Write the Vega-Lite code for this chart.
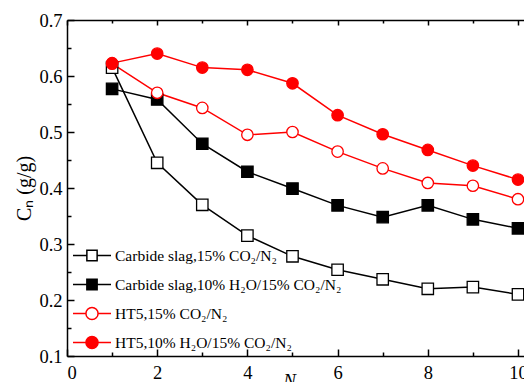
{
  "$schema": "https://vega.github.io/schema/vega-lite/v6.json",
  "width": 460,
  "height": 336,
  "autosize": "none",
  "padding": {"left": 67, "top": 20, "right": 0, "bottom": 26},
  "background": "white",
  "config": {
    "view": {"stroke": null},
    "font": "Liberation Serif",
    "axis": {
      "domainColor": "#000000",
      "domainWidth": 1.5,
      "tickColor": "#000000",
      "tickWidth": 1.5,
      "labelFont": "Liberation Serif",
      "labelFontSize": 18.5,
      "labelColor": "#000000",
      "titleFont": "Liberation Serif",
      "titleColor": "#000000",
      "titleFontWeight": "normal",
      "grid": false,
      "labelOverlap": false
    },
    "legend": {
      "labelFont": "Liberation Serif",
      "labelFontSize": 15.5,
      "labelColor": "#000000",
      "labelLimit": 400
    }
  },
  "data": {
    "values": [
      {"N": 1, "C": 0.615, "series": "Carbide slag,15% CO₂/N₂"},
      {"N": 2, "C": 0.445, "series": "Carbide slag,15% CO₂/N₂"},
      {"N": 3, "C": 0.370, "series": "Carbide slag,15% CO₂/N₂"},
      {"N": 4, "C": 0.315, "series": "Carbide slag,15% CO₂/N₂"},
      {"N": 5, "C": 0.278, "series": "Carbide slag,15% CO₂/N₂"},
      {"N": 6, "C": 0.254, "series": "Carbide slag,15% CO₂/N₂"},
      {"N": 7, "C": 0.237, "series": "Carbide slag,15% CO₂/N₂"},
      {"N": 8, "C": 0.220, "series": "Carbide slag,15% CO₂/N₂"},
      {"N": 9, "C": 0.223, "series": "Carbide slag,15% CO₂/N₂"},
      {"N": 10, "C": 0.210, "series": "Carbide slag,15% CO₂/N₂"},
      {"N": 1, "C": 0.577, "series": "Carbide slag,10% H₂O/15% CO₂/N₂"},
      {"N": 2, "C": 0.558, "series": "Carbide slag,10% H₂O/15% CO₂/N₂"},
      {"N": 3, "C": 0.479, "series": "Carbide slag,10% H₂O/15% CO₂/N₂"},
      {"N": 4, "C": 0.429, "series": "Carbide slag,10% H₂O/15% CO₂/N₂"},
      {"N": 5, "C": 0.399, "series": "Carbide slag,10% H₂O/15% CO₂/N₂"},
      {"N": 6, "C": 0.369, "series": "Carbide slag,10% H₂O/15% CO₂/N₂"},
      {"N": 7, "C": 0.348, "series": "Carbide slag,10% H₂O/15% CO₂/N₂"},
      {"N": 8, "C": 0.369, "series": "Carbide slag,10% H₂O/15% CO₂/N₂"},
      {"N": 9, "C": 0.344, "series": "Carbide slag,10% H₂O/15% CO₂/N₂"},
      {"N": 10, "C": 0.328, "series": "Carbide slag,10% H₂O/15% CO₂/N₂"},
      {"N": 1, "C": 0.622, "series": "HT5,15% CO₂/N₂"},
      {"N": 2, "C": 0.570, "series": "HT5,15% CO₂/N₂"},
      {"N": 3, "C": 0.543, "series": "HT5,15% CO₂/N₂"},
      {"N": 4, "C": 0.495, "series": "HT5,15% CO₂/N₂"},
      {"N": 5, "C": 0.500, "series": "HT5,15% CO₂/N₂"},
      {"N": 6, "C": 0.465, "series": "HT5,15% CO₂/N₂"},
      {"N": 7, "C": 0.435, "series": "HT5,15% CO₂/N₂"},
      {"N": 8, "C": 0.409, "series": "HT5,15% CO₂/N₂"},
      {"N": 9, "C": 0.404, "series": "HT5,15% CO₂/N₂"},
      {"N": 10, "C": 0.380, "series": "HT5,15% CO₂/N₂"},
      {"N": 1, "C": 0.623, "series": "HT5,10% H₂O/15% CO₂/N₂"},
      {"N": 2, "C": 0.640, "series": "HT5,10% H₂O/15% CO₂/N₂"},
      {"N": 3, "C": 0.615, "series": "HT5,10% H₂O/15% CO₂/N₂"},
      {"N": 4, "C": 0.611, "series": "HT5,10% H₂O/15% CO₂/N₂"},
      {"N": 5, "C": 0.587, "series": "HT5,10% H₂O/15% CO₂/N₂"},
      {"N": 6, "C": 0.530, "series": "HT5,10% H₂O/15% CO₂/N₂"},
      {"N": 7, "C": 0.496, "series": "HT5,10% H₂O/15% CO₂/N₂"},
      {"N": 8, "C": 0.468, "series": "HT5,10% H₂O/15% CO₂/N₂"},
      {"N": 9, "C": 0.440, "series": "HT5,10% H₂O/15% CO₂/N₂"},
      {"N": 10, "C": 0.415, "series": "HT5,10% H₂O/15% CO₂/N₂"}
    ]
  },
  "layer": [
    {
      "mark": {"type": "line", "strokeWidth": 1.5},
      "encoding": {
        "x": {
          "field": "N", "type": "quantitative",
          "scale": {"domain": [0, 10.2], "nice": false, "zero": false},
          "axis": {
            "orient": "bottom",
            "values": [0, 2, 4, 6, 8, 10],
            "tickSize": -7,
            "labelPadding": 14,
            "labelFont": "Liberation Serif",
            "title": "N",
            "titleFont": "Liberation Serif",
            "titleFontStyle": "italic",
            "titleFontSize": 19,
            "titleX": 222,
            "titleY": 15,
            "titleBaseline": "top"
          }
        },
        "y": {
          "field": "C", "type": "quantitative",
          "scale": {"domain": [0.1, 0.7], "nice": false, "zero": false},
          "axis": {
            "values": [0.1, 0.2, 0.3, 0.4, 0.5, 0.6, 0.7],
            "format": ".1f",
            "tickSize": -7,
            "labelPadding": 12,
            "labelFont": "Liberation Serif",
            "title": "Cₙ (g/g)",
            "titleFont": "Liberation Serif",
            "titleFontSize": 20,
            "titlePadding": 4
          }
        },
        "stroke": {
          "field": "series", "type": "nominal",
          "scale": {
            "domain": ["Carbide slag,15% CO₂/N₂", "Carbide slag,10% H₂O/15% CO₂/N₂", "HT5,15% CO₂/N₂", "HT5,10% H₂O/15% CO₂/N₂"],
            "range": ["#000000", "#000000", "#ff0000", "#ff0000"]
          },
          "legend": null
        },
        "detail": {"field": "series"}
      }
    },
    {
      "mark": {"type": "point", "filled": false, "strokeWidth": 1.3, "opacity": 1},
      "encoding": {
        "x": {
          "field": "N", "type": "quantitative",
          "axis": {
            "orient": "bottom",
            "values": [1, 3, 5, 7, 9],
            "tickSize": -4,
            "labels": false,
            "domain": false,
            "title": null
          }
        },
        "y": {
          "field": "C", "type": "quantitative",
          "axis": {
            "orient": "left",
            "values": [0.15, 0.25, 0.35, 0.45, 0.55, 0.65],
            "tickSize": -4,
            "labels": false,
            "domain": false,
            "title": null
          }
        },
        "shape": {
          "field": "series", "type": "nominal",
          "scale": {
            "domain": ["Carbide slag,15% CO₂/N₂", "Carbide slag,10% H₂O/15% CO₂/N₂", "HT5,15% CO₂/N₂", "HT5,10% H₂O/15% CO₂/N₂"],
            "range": ["square", "square", "circle", "circle"]
          },
          "legend": null
        },
        "size": {"value": 130},
        "fill": {
          "field": "series", "type": "nominal",
          "scale": {
            "domain": ["Carbide slag,15% CO₂/N₂", "Carbide slag,10% H₂O/15% CO₂/N₂", "HT5,15% CO₂/N₂", "HT5,10% H₂O/15% CO₂/N₂"],
            "range": ["#ffffff", "#000000", "#ffffff", "#ff0000"]
          },
          "legend": null
        },
        "stroke": {
          "field": "series", "type": "nominal",
          "scale": {
            "domain": ["Carbide slag,15% CO₂/N₂", "Carbide slag,10% H₂O/15% CO₂/N₂", "HT5,15% CO₂/N₂", "HT5,10% H₂O/15% CO₂/N₂"],
            "range": ["#000000", "#000000", "#ff0000", "#ff0000"]
          },
          "legend": null
        }
      }
    },
    {
      "mark": {"type": "rule", "opacity": 0},
      "encoding": {
        "x": {
          "field": "N", "type": "quantitative",
          "axis": {
            "orient": "top",
            "values": [0, 2, 4, 6, 8, 10],
            "labels": false,
            "tickSize": -5,
            "title": null
          }
        },
        "y": {"field": "C", "type": "quantitative", "axis": null}
      }
    },
    {
      "mark": {"type": "rule", "opacity": 0},
      "encoding": {
        "x": {
          "field": "N", "type": "quantitative",
          "axis": {
            "orient": "top",
            "values": [1, 3, 5, 7, 9],
            "labels": false,
            "domain": false,
            "tickSize": -3,
            "title": null
          }
        },
        "y": {"field": "C", "type": "quantitative", "axis": null}
      }
    },
    {
      "transform": [{"filter": "datum.N > 100"}],
      "mark": {"type": "point", "filled": false, "strokeWidth": 1.5, "opacity": 1},
      "encoding": {
        "x": {"field": "N", "type": "quantitative", "axis": null},
        "y": {"field": "C", "type": "quantitative", "axis": null},
        "shape": {
          "field": "series", "type": "nominal",
          "scale": {
            "domain": ["Carbide slag,15% CO₂/N₂", "Carbide slag,10% H₂O/15% CO₂/N₂", "HT5,15% CO₂/N₂", "HT5,10% H₂O/15% CO₂/N₂"],
            "range": [
              "M-1,0H-0.27M0.27,0H1M-0.27,-0.27H0.27V0.27H-0.27Z",
              "M-1,0H-0.27M0.27,0H1M-0.27,-0.27H0.27V0.27H-0.27Z",
              "M-1,0H-0.32M0.32,0H1M0.32,0A0.32,0.32,0,1,1,-0.32,0A0.32,0.32,0,1,1,0.32,0Z",
              "M-1,0H-0.32M0.32,0H1M0.32,0A0.32,0.32,0,1,1,-0.32,0A0.32,0.32,0,1,1,0.32,0Z"
            ]
          },
          "legend": {
            "title": null,
            "orient": "none",
            "legendX": 5,
            "legendY": 221,
            "padding": 0,
            "symbolSize": 1444,
            "symbolStrokeWidth": 1.5,
            "clipHeight": 29,
            "rowPadding": 0,
            "labelOffset": 3
          }
        },
        "fill": {
          "field": "series", "type": "nominal",
          "scale": {
            "domain": ["Carbide slag,15% CO₂/N₂", "Carbide slag,10% H₂O/15% CO₂/N₂", "HT5,15% CO₂/N₂", "HT5,10% H₂O/15% CO₂/N₂"],
            "range": ["#ffffff", "#000000", "#ffffff", "#ff0000"]
          },
          "legend": {
            "title": null,
            "orient": "none",
            "legendX": 5,
            "legendY": 221,
            "padding": 0,
            "symbolSize": 1444,
            "symbolStrokeWidth": 1.5,
            "clipHeight": 29,
            "rowPadding": 0,
            "labelOffset": 3
          }
        },
        "stroke": {
          "field": "series", "type": "nominal",
          "scale": {
            "domain": ["Carbide slag,15% CO₂/N₂", "Carbide slag,10% H₂O/15% CO₂/N₂", "HT5,15% CO₂/N₂", "HT5,10% H₂O/15% CO₂/N₂"],
            "range": ["#000000", "#000000", "#ff0000", "#ff0000"]
          },
          "legend": {
            "title": null,
            "orient": "none",
            "legendX": 5,
            "legendY": 221,
            "padding": 0,
            "symbolSize": 1444,
            "symbolStrokeWidth": 1.5,
            "clipHeight": 29,
            "rowPadding": 0,
            "labelOffset": 3
          }
        }
      }
    }
  ],
  "resolve": {
    "axis": {"x": "independent", "y": "independent"},
    "scale": {"shape": "independent", "fill": "independent", "stroke": "independent"},
    "legend": {"shape": "independent", "fill": "independent", "stroke": "independent"}
  }
}
